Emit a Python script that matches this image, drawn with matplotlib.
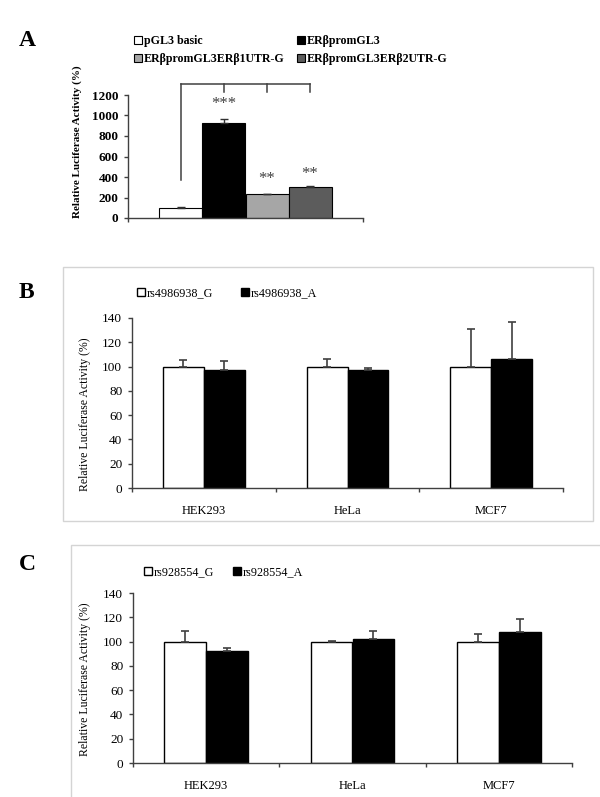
import numpy as np
import matplotlib
matplotlib.use('Agg')
import matplotlib.pyplot as plt
from matplotlib.patches import Rectangle, Patch

plt.rcParams['font.family'] = ['Liberation Serif', 'DejaVu Serif']

# 面板A数据
a_labels = ['pGL3 basic', 'ERβpromGL3', 'ERβpromGL3ERβ1UTR-G', 'ERβpromGL3ERβ2UTR-G']
a_values = [100, 925, 232, 305]
a_errors = [5, 45, 0, 8]
a_colors = ['white', 'black', '#a6a6a6', '#5c5c5c']
a_stars = ['', '***', '**', '**']

# 面板B/C数据
cells = ['HEK293', 'HeLa', 'MCF7']
b_series = ['rs4986938_G', 'rs4986938_A']
b_G = [100, 100, 100]
b_G_err = [5.5, 6, 31]
b_A = [97, 97.5, 106.5]
b_A_err = [7.5, 1, 30.5]

c_series = ['rs928554_G', 'rs928554_A']
c_G = [100, 100, 100]
c_G_err = [8.5, 0.5, 6]
c_A = [92, 102.5, 107.5]
c_A_err = [3, 6.5, 11.5]

W, H = 600, 797
fig = plt.figure(figsize=(W / 100, H / 100), dpi=100)


def fx(px):
    return px / W


def fy(py):
    return 1 - py / H


def style_axis(ax, bold):
    for s in ['top', 'right']:
        ax.spines[s].set_visible(False)
    for s in ['left', 'bottom']:
        ax.spines[s].set_color('#404040')
        ax.spines[s].set_linewidth(1)
    ax.tick_params(axis='both', which='major', direction='out', length=3,
                   width=1, color='#404040', labelsize=9.5, pad=4)
    for t in ax.get_yticklabels():
        t.set_fontweight('bold' if bold else 'normal')


# 外框
fig.patches.append(Rectangle((fx(63), fy(521)), fx(593) - fx(63), fy(267) - fy(521),
                             transform=fig.transFigure, fill=False,
                             edgecolor='#d4d4d4', lw=1))
fig.patches.append(Rectangle((fx(71), fy(810)), fx(620) - fx(71), fy(545) - fy(810),
                             transform=fig.transFigure, fill=False,
                             edgecolor='#d4d4d4', lw=1))

# ---------- 面板A ----------
axA = fig.add_axes([fx(128), fy(218), fx(363) - fx(128), fy(95) - fy(218)])
x = np.arange(len(a_values))
axA.bar(x, a_values, width=1.0, color=a_colors, edgecolor='black', linewidth=0.8)
axA.errorbar(x, a_values, yerr=[np.zeros(len(a_errors)), a_errors], fmt='none',
             ecolor='#303030', elinewidth=1, capsize=3, capthick=1)
axA.set_xlim(-1.23, 4.23)
axA.set_ylim(0, 1200)
axA.set_yticks([0, 200, 400, 600, 800, 1000, 1200])
axA.set_xticks([-1.23, 4.23])
axA.set_xticklabels(['', ''])
style_axis(axA, True)
axA.set_ylabel('Relative Luciferase Activity (%)', fontsize=8, fontweight='bold')
axA.yaxis.set_label_coords(-0.196, 0.62)

star_y = [0, 1030, 300, 355]
for xi, s, sy in zip(x, a_stars, star_y):
    if s:
        axA.text(xi, sy, s, ha='center', va='bottom', fontsize=12, color='#404040')

# 显著性括号
top, tick_bot = 1310, 1228
kw = dict(color='#404040', lw=1.1, clip_on=False)
axA.plot([0, 3], [top, top], **kw)
axA.plot([0, 0], [370, top], **kw)
for xi in [1, 2, 3]:
    axA.plot([xi, xi], [tick_bot, top], **kw)

handles = [Patch(facecolor=c, edgecolor='black', lw=0.8) for c in a_colors]
order = [0, 2, 1, 3]
fig.legend([handles[i] for i in order], [a_labels[i] for i in order],
           loc='upper left', bbox_to_anchor=(fx(134), fy(35)), ncol=2,
           frameon=False, prop={'weight': 'bold', 'size': 8.6},
           handlelength=0.65, handleheight=0.65, handletextpad=0.2,
           columnspacing=1.0, labelspacing=0.5, borderaxespad=0, borderpad=0)


# ---------- 面板B/C ----------
def group_panel(rect, g, g_err, a, a_err, names, leg_xy, colsp, ylab_xy):
    ax = fig.add_axes(rect)
    xx = np.arange(len(cells))
    w = 0.285
    ax.bar(xx - w / 2, g, width=w, color='white', edgecolor='black', linewidth=1, label=names[0])
    ax.bar(xx + w / 2, a, width=w, color='black', edgecolor='black', linewidth=1, label=names[1])
    ax.errorbar(xx - w / 2, g, yerr=[np.zeros(len(g)), g_err], fmt='none',
                ecolor='#404040', elinewidth=1.2, capsize=3, capthick=1.2)
    ax.errorbar(xx + w / 2, a, yerr=[np.zeros(len(a)), a_err], fmt='none',
                ecolor='#404040', elinewidth=1.2, capsize=3, capthick=1.2)
    ax.set_xlim(-0.5, 2.5)
    ax.set_ylim(0, 140)
    ax.set_yticks(np.arange(0, 141, 20))
    ax.set_xticks([-0.5, 0.5, 1.5, 2.5])
    ax.set_xticklabels([])
    ax.set_xticks(xx, minor=True)
    ax.set_xticklabels(cells, minor=True)
    style_axis(ax, False)
    ax.tick_params(axis='x', which='minor', length=0, pad=12, labelsize=9)
    ax.set_ylabel('Relative Luciferase Activity (%)', fontsize=8.5)
    ax.yaxis.set_label_coords(*ylab_xy)
    fig.legend(handles=[Patch(facecolor='white', edgecolor='black', lw=1),
                        Patch(facecolor='black', edgecolor='black', lw=1)],
               labels=names, loc='center left', bbox_to_anchor=leg_xy, ncol=2,
               frameon=False, fontsize=8.7, handlelength=0.65, handleheight=0.65,
               handletextpad=0.15, columnspacing=colsp, borderaxespad=0, borderpad=0)
    return ax


group_panel([fx(132), fy(488), fx(563) - fx(132), fy(318) - fy(488)],
            b_G, b_G_err, b_A, b_A_err, b_series, (fx(137), fy(293)), 2.3,
            (-0.095, 0.435))
group_panel([fx(133), fy(763), fx(572) - fx(133), fy(593) - fy(763)],
            c_G, c_G_err, c_A, c_A_err, c_series, (fx(144), fy(572)), 1.6,
            (-0.095, 0.49))

# 面板字母
for lab, px, py in [('A', 27, 40), ('B', 26, 293), ('C', 27, 565)]:
    fig.text(fx(px), fy(py), lab, fontsize=17, fontweight='bold', ha='center', va='center')

fig.savefig('out.png', dpi=100)
